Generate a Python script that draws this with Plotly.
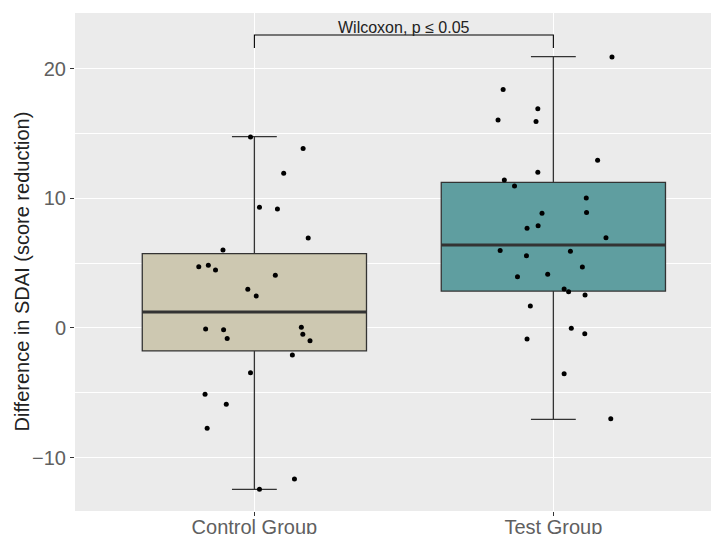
import plotly.graph_objects as go

# ---- data ----
groups = ["Control Group", "Test Group"]
group_pos = [1, 2]

# box statistics
q1 = [-1.77, 2.85]
median = [1.23, 6.40]
q3 = [5.73, 11.24]
lower_whisker = [-12.45, -7.05]
upper_whisker = [14.76, 20.93]

# jittered points: horizontal offset from the group centre, value
control_offset = [-0.013, 0.163, 0.098, 0.017, 0.077, 0.180, -0.105, -0.186, -0.154, -0.130,
                  0.070, -0.022, 0.006, -0.163, -0.103, -0.091, 0.157, 0.162, 0.186, 0.127,
                  -0.013, -0.165, -0.094, -0.158, 0.134, 0.017]
control_value = [14.74, 13.84, 11.94, 9.31, 9.18, 6.94, 6.02, 4.73, 4.84, 4.48,
                 4.07, 2.99, 2.47, -0.08, -0.13, -0.82, 0.05, -0.49, -0.98, -2.08,
                 -3.45, -5.12, -5.89, -7.74, -11.65, -12.45]
test_offset = [0.196, -0.168, -0.052, -0.185, -0.058, 0.148, -0.052, -0.164, -0.130, 0.110,
               0.111, -0.038, -0.051, -0.088, 0.176, -0.178, -0.090, 0.057, 0.097, -0.120,
               -0.019, 0.036, 0.051, 0.106, -0.077, 0.060, 0.105, -0.088, 0.036, 0.192]
test_value = [20.91, 18.39, 16.92, 16.05, 15.92, 12.94, 12.01, 11.42, 10.96, 10.03,
              8.90, 8.85, 7.89, 7.69, 6.97, 5.97, 5.58, 5.92, 4.71, 3.96,
              4.14, 3.01, 2.80, 2.55, 1.70, -0.03, -0.44, -0.85, -3.53, -7.00]

fills = ["#CDC8B1", "#5F9EA0"]
y_ticks = [-10, 0, 10, 20]
test_label = "Wilcoxon, p \u2264 0.05"
y_title = "Difference in SDAI (score reduction)"

FONT = "Liberation Sans"
BOX_W = 0.75

fig = go.Figure()

for i in range(2):
    fig.add_trace(go.Box(
        x=[group_pos[i]], q1=[q1[i]], median=[median[i]], q3=[q3[i]],
        lowerfence=[lower_whisker[i]], upperfence=[upper_whisker[i]],
        width=BOX_W, whiskerwidth=0.2, fillcolor=fills[i],
        line=dict(color="#333333", width=1.3), boxpoints=False,
        showlegend=False, hoverinfo="skip"))
    # thicker median line
    fig.add_trace(go.Scatter(
        x=[group_pos[i] - BOX_W / 2, group_pos[i] + BOX_W / 2],
        y=[median[i], median[i]], mode="lines",
        line=dict(color="#333333", width=3), showlegend=False, hoverinfo="skip"))

all_offsets = [control_offset, test_offset]
all_values = [control_value, test_value]
for i in range(2):
    fig.add_trace(go.Scatter(
        x=[group_pos[i] + o for o in all_offsets[i]], y=all_values[i],
        mode="markers", marker=dict(color="black", size=5),
        showlegend=False, hoverinfo="skip"))

# significance bracket
br_y, br_low = 22.6, 21.6
fig.add_shape(type="path",
              path=f"M {group_pos[0]},{br_low} L {group_pos[0]},{br_y} L {group_pos[1]},{br_y} L {group_pos[1]},{br_low}",
              xref="x", yref="y", line=dict(color="black", width=1.1))
fig.add_annotation(x=(group_pos[0] + group_pos[1]) / 2, y=br_y, xref="x", yref="y",
                   text=test_label, showarrow=False, yanchor="bottom", yshift=-3,
                   font=dict(family=FONT, size=16, color="#222222"))

# y-axis title
fig.add_annotation(x=-0.0823, y=0.481, xref="paper", yref="paper",
                   text=y_title, textangle=-90, showarrow=False,
                   xanchor="center", yanchor="middle",
                   font=dict(family=FONT, size=20, color="#222222"))

fig.update_layout(
    width=719, height=534,
    margin=dict(l=67, r=8, t=5, b=31),
    paper_bgcolor="white", plot_bgcolor="#EBEBEB",
    font=dict(family=FONT),
    xaxis=dict(range=[0.4, 2.554], tickvals=group_pos, ticktext=groups, automargin=False,
               showgrid=True, gridcolor="white", gridwidth=1.2, zeroline=False,
               ticks="outside", ticklen=4, tickcolor="#333333", tickwidth=1,
               ticklabelstandoff=-6,
               tickfont=dict(family=FONT, size=20, color="#606060")),
    yaxis=dict(range=[-14.12, 24.3], tickvals=y_ticks, automargin=False,
               showgrid=True, gridcolor="white", gridwidth=1.2, zeroline=False,
               ticks="outside", ticklen=4, tickcolor="#333333", tickwidth=1,
               tickfont=dict(family=FONT, size=20, color="#606060"),
               minor=dict(dtick=5, tick0=0, showgrid=True, gridcolor="white", gridwidth=0.6)),
)

fig.write_html("out.html")
